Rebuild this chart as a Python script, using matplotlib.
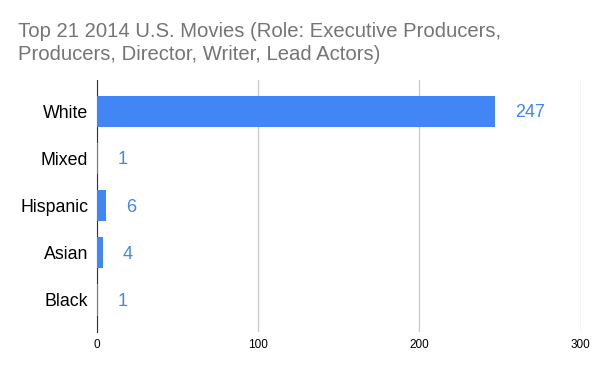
import matplotlib.pyplot as plt

# data
groups = ["White", "Mixed", "Hispanic", "Asian", "Black"]
counts = [247, 1, 6, 4, 1]
xticks = [0, 100, 200, 300]

plt.rcParams['font.family'] = ['Liberation Sans', 'DejaVu Sans']

fig = plt.figure(figsize=(6, 3.71), dpi=100)
ax = fig.add_axes([0.161, 0.105, 0.807, 0.679])

pos = list(range(len(groups)))
ax.barh(pos, counts, height=0.66, color="#4285f4", zorder=3)

for p, c in zip(pos, counts):
    ax.annotate(str(c), (c, p), xytext=(14, -1), textcoords="offset points",
                va="center", ha="left", color="#4285f4", fontsize=13)

ax.set_xlim(0, 300)
ax.set_ylim(4.68, -0.66)
ax.set_xticks(xticks)
ax.set_xticklabels([str(t) for t in xticks], fontsize=8.5)
ax.set_yticks(pos)
ax.set_yticklabels(groups, fontsize=12.8)
ax.tick_params(length=0, pad=6)
ax.tick_params(axis="x", pad=5)
ax.grid(axis="x", color="#cccccc", linewidth=1, zorder=0)
for s in ["top", "right", "bottom"]:
    ax.spines[s].set_visible(False)
ax.spines["left"].set_color("#333333")
ax.spines["left"].set_zorder(2)

fig.text(0.03, 0.94, "Top 21 2014 U.S. Movies (Role: Executive Producers,\nProducers, Director, Writer, Lead Actors)",
         fontsize=14.6, color="#757575", ha="left", va="top", linespacing=1.25)

fig.savefig("out.png")
